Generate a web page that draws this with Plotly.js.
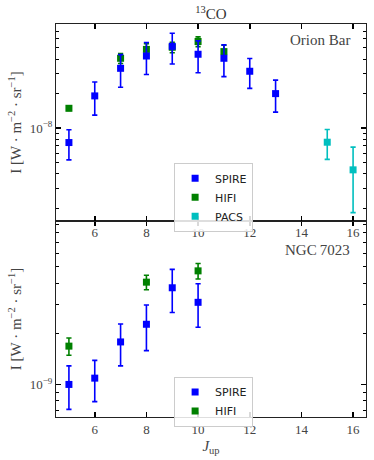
<!DOCTYPE html>
<html>
<head>
<meta charset="utf-8">
<script src="https://cdn.plot.ly/plotly-3.0.1.min.js"></script>
<style>
  html, body { margin: 0; padding: 0; background: #fff; }
  #chart { width: 374px; height: 460px; }
</style>
</head>
<body>
<div id="chart"></div>
<script>
// ---- Orion Bar (top panel) ----
const orionSpireJ   = [5, 6, 7, 8, 9, 10, 11, 12, 13];
const orionSpireI   = [7.5e-9, 1.91e-8, 3.32e-8, 4.25e-8, 5.16e-8, 4.40e-8, 4.06e-8, 3.13e-8, 2.0e-8];
const orionSpireErr = [2.2e-9, 0.61e-8, 1.05e-8, 1.32e-8, 1.54e-8, 1.36e-8, 1.25e-8, 0.91e-8, 0.62e-8];

const orionHifiJ   = [5, 7, 8, 9, 10, 11];
const orionHifiI   = [1.49e-8, 4.06e-8, 4.85e-8, 5.06e-8, 5.68e-8, 4.64e-8];
const orionHifiErr = [0.06e-8, 0.40e-8, 0.58e-8, 0.52e-8, 0.55e-8, 0.63e-8];

const orionPacsJ   = [15, 16];
const orionPacsI   = [7.55e-9, 4.34e-9];
const orionPacsErr = [2.2e-9, 2.5e-9];

// ---- NGC 7023 (bottom panel) ----
const ngcSpireJ   = [5, 6, 7, 8, 9, 10];
const ngcSpireI   = [1.0e-9, 1.09e-9, 1.79e-9, 2.28e-9, 3.76e-9, 3.08e-9];
const ngcSpireErr = [0.29e-9, 0.30e-9, 0.50e-9, 0.69e-9, 1.08e-9, 0.89e-9];

const ngcHifiJ   = [5, 8, 10];
const ngcHifiI   = [1.69e-9, 4.06e-9, 4.74e-9];
const ngcHifiErr = [0.20e-9, 0.40e-9, 0.50e-9];

const xTickVals = [6, 8, 10, 12, 14, 16];
const topMajor = [1e-8], topMajorText = ['10<sup>\u22128</sup>'];
const botMajor = [1e-9], botMajorText = ['10<sup>\u22129</sup>'];
const topMinor = [2e-9,3e-9,4e-9,5e-9,6e-9,7e-9,8e-9,9e-9,2e-8,3e-8,4e-8,5e-8,6e-8,7e-8,8e-8];
const botMinor = [6e-10,7e-10,8e-10,9e-10,2e-9,3e-9,4e-9,5e-9,6e-9,7e-9,8e-9,9e-9];

const BLUE = '#0000ff', GREEN = '#008000', CYAN = '#00bfbf';
const SERIF = 'Liberation Serif, DejaVu Serif, serif';
const SANS = 'DejaVu Sans, sans-serif';

function tr(x, y, err, color, name, xa, ya, legend, rank, show) {
  return {
    type: 'scatter', mode: 'markers', x: x, y: y, name: name,
    xaxis: xa, yaxis: ya, legend: legend, legendrank: rank, showlegend: show,
    marker: { symbol: 'square', size: 7, color: color },
    error_y: { type: 'data', array: err, visible: true, color: color, thickness: 1.6, width: 2.6 }
  };
}

const data = [
  tr(orionHifiJ, orionHifiI, orionHifiErr, GREEN, 'HIFI', 'x2', 'y2', 'legend', 2, true),
  tr(orionSpireJ, orionSpireI, orionSpireErr, BLUE, 'SPIRE', 'x2', 'y2', 'legend', 1, true),
  tr(orionPacsJ, orionPacsI, orionPacsErr, CYAN, 'PACS', 'x2', 'y2', 'legend', 3, true),
  tr(ngcHifiJ, ngcHifiI, ngcHifiErr, GREEN, 'HIFI', 'x', 'y', 'legend2', 2, true),
  tr(ngcSpireJ, ngcSpireI, ngcSpireErr, BLUE, 'SPIRE', 'x', 'y', 'legend2', 1, true)
];

const xCommon = {
  range: [4.5, 16.5], tickmode: 'array', tickvals: xTickVals,
  ticks: 'inside', ticklen: 5, tickwidth: 1.5, tickcolor: '#000',
  showline: true, linecolor: '#222', linewidth: 1, mirror: 'ticks',
  showgrid: false, zeroline: false,
  tickfont: { family: SERIF, size: 13, color: '#444' }
};
function yCommon(range, major, majorText, minor, domain) {
  return {
    type: 'log', range: range, domain: domain,
    tickmode: 'array', tickvals: major, ticktext: majorText,
    ticks: 'inside', ticklen: 5, tickwidth: 1.5, tickcolor: '#000',
    minor: { tickmode: 'array', tickvals: minor, ticks: 'inside', ticklen: 3, tickwidth: 1, tickcolor: '#000', showgrid: false },
    showline: true, linecolor: '#222', linewidth: 1, mirror: 'ticks',
    showgrid: false, zeroline: false,
    tickfont: { family: SERIF, size: 13, color: '#444' },
    title: { text: 'I [W \u00b7 m<sup>\u22122</sup> \u00b7 sr<sup>\u22121</sup>]', font: { family: SERIF, size: 15, color: '#444' }, standoff: 4 }
  };
}

const layout = {
  width: 374, height: 460,
  margin: { l: 56, r: 8, t: 24, b: 43 },
  paper_bgcolor: '#fff', plot_bgcolor: '#fff',
  showlegend: true,
  title: { text: '<sup>13</sup>CO', font: { family: SERIF, size: 15, color: '#333' },
           x: 0.5, xref: 'paper', y: 1 - 14 / 460, yref: 'container', yanchor: 'middle' },
  xaxis: Object.assign({}, xCommon, { anchor: 'y',
    title: { text: '<i>J</i><sub>up</sub>', font: { family: SERIF, size: 15, color: '#444' }, standoff: 4 } }),
  xaxis2: Object.assign({}, xCommon, { anchor: 'y2', matches: 'x' }),
  yaxis: yCommon([Math.log10(6.4e-10), Math.log10(9.4e-9)], botMajor, botMajorText, botMinor, [0, 0.499]),
  yaxis2: yCommon([Math.log10(1.56e-9), Math.log10(8.07e-8)], topMajor, topMajorText, topMinor, [0.499, 1]),
  legend: {
    x: 0.381, y: 0.647, xanchor: 'left', yanchor: 'top', xref: 'paper', yref: 'paper',
    bgcolor: 'rgba(255,255,255,0.85)', bordercolor: '#cccccc', borderwidth: 1,
    font: { family: SANS, size: 11, color: '#222' }, traceorder: 'normal',
    itemwidth: 30, tracegroupgap: 0
  },
  legend2: {
    x: 0.381, y: 0.103, xanchor: 'left', yanchor: 'top', xref: 'paper', yref: 'paper',
    bgcolor: 'rgba(255,255,255,0.85)', bordercolor: '#cccccc', borderwidth: 1,
    font: { family: SANS, size: 11, color: '#222' }, traceorder: 'normal',
    itemwidth: 30, tracegroupgap: 0
  },
  annotations: [
    { text: 'Orion Bar', xref: 'paper', yref: 'y2 domain', x: 0.955, y: 0.919,
      xanchor: 'right', yanchor: 'middle', showarrow: false,
      font: { family: SERIF, size: 15, color: '#444' } },
    { text: 'NGC\u20097023', xref: 'paper', yref: 'y domain', x: 0.955, y: 0.852,
      xanchor: 'right', yanchor: 'middle', showarrow: false,
      font: { family: SERIF, size: 15, color: '#444' } }
  ]
};

Plotly.newPlot('chart', data, layout, { displayModeBar: false, staticPlot: true });
</script>
</body>
</html>
